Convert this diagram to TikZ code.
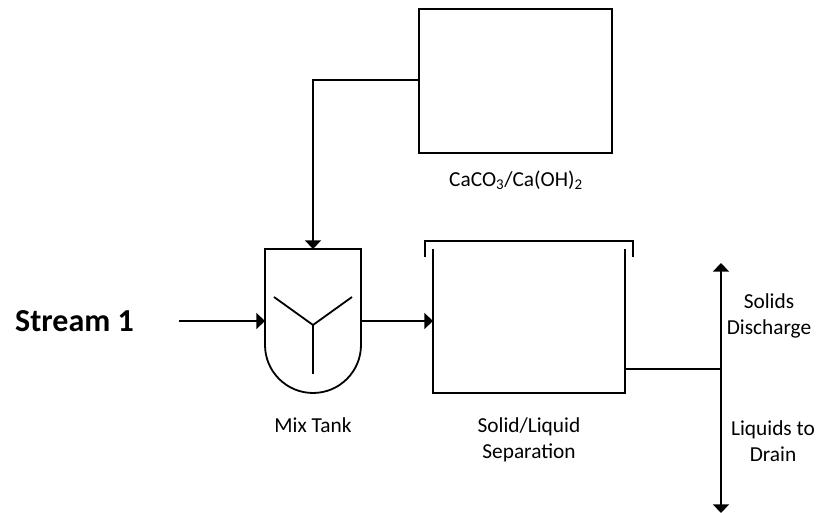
\documentclass[tikz,border=0pt]{standalone}
\usepackage{fontspec}
\setmainfont{Carlito}
\usetikzlibrary{arrows.meta}
\tikzset{
  x=0.75pt,y=-0.75pt,
  pipe/.style={line width=1.35pt,draw=black},
  flow/.style={pipe,-{Triangle[length=6.5pt,width=12pt]}},
  label/.style={font=\fontsize{16}{19.5}\selectfont,align=center,inner sep=0pt,text=black},
  unitbox/.style={draw=black,line width=1.35pt,inner sep=0pt,minimum width=144pt,minimum height=108pt}
}
\begin{document}
\begin{tikzpicture}
\useasboundingbox (0,0) rectangle (819,513);
% storage box
\node[unitbox,minimum width=144.75pt] (silo) at (515.5,81) {};
% mix tank
\draw[pipe] (265,345) -- (265,249) -- (361,249) -- (361,345) arc[start angle=0,end angle=180,radius=48] -- cycle;
\coordinate (tanktop) at (313,249);
\coordinate (tankin) at (265,321);
\coordinate (tankout) at (361,321);
\coordinate (hub) at (313,325);
\coordinate (armL) at (274,297);
\coordinate (armR) at (352,297);
\coordinate (stem) at (313,374);
\draw[pipe] (armL) -- (hub) -- (armR) (hub) -- (stem);
% separator
\draw[pipe] (433,249) -- (433,393) -- (625,393) -- (625,249);
\draw[pipe] (425,257) -- (425,241) -- (633,241) -- (633,257);
\coordinate (sepin) at (433,321);
\coordinate (sepout) at (625,369);
\coordinate (junc) at (721,369);
\coordinate (up) at (721,263);
\coordinate (down) at (721,513);
\coordinate (feed) at (179,321);
\coordinate (siloout) at (419,80);
% connectors
\draw[flow] (siloout) -| (tanktop);
\draw[flow] (feed) -- (tankin);
\draw[flow] (tankout) -- (sepin);
\draw[pipe] (sepout) -- (junc);
\draw[flow] (junc) -- (up);
\draw[flow] (junc) -- (down);
% labels
\node[label] (l1) at (516,180) {CaCO\textsubscript{3}/Ca(OH)\textsubscript{2}};
\node[label] (l2) at (313,425) {Mix Tank};
\node[label] (l3) at (529,440) {Solid/Liquid\\Separation};
\node[label] (l4) at (769,316) {Solids\\Discharge};
\node[label] (l5) at (773,441) {Liquids to\\Drain};
\node[font=\fontsize{24}{28}\selectfont\bfseries,inner sep=0pt] (l6) at (74.5,321) {Stream 1};
\end{tikzpicture}
\end{document}
